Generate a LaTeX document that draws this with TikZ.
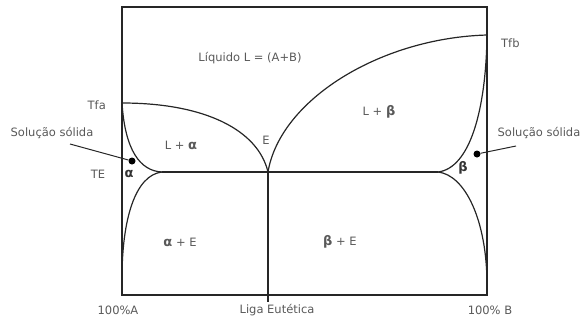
\documentclass[tikz,border=0pt]{standalone}
\usepackage{fontspec}
\setmainfont{DejaVu Sans}
\newcommand{\gal}{{\bfseries\fontsize{13}{14}\selectfont α}}
\newcommand{\gbe}{{\bfseries\fontsize{13}{14}\selectfont β}}
\begin{document}
\begin{tikzpicture}[x=1pt,y=-1pt,
  lbl/.style={text=black!65,font=\fontsize{11.5}{13}\selectfont,inner sep=0pt},
  glbl/.style={text=black!80,inner sep=0pt},
  curve/.style={draw=black!85,line width=1.2pt},
  frame/.style={draw=black!85,line width=1.6pt},
  ptr/.style={draw=black!85,line width=1pt}]
\useasboundingbox (0,0) rectangle (585,322);
% frame
\coordinate (BL) at (122,295);
\coordinate (TR) at (487,7);
\draw[frame] (BL) rectangle (TR);
% key points
\coordinate (Tfa) at (122,103);
\coordinate (Tfb) at (487,35);
\coordinate (E) at (268,172);
\coordinate (Ca) at (162,172);
\coordinate (Cb) at (438,172);
\coordinate (Eb) at (268,302);
% liquidus
\draw[curve] (Tfa) .. controls (205,103) and (258,130) .. (E);
\draw[curve] (E) .. controls (280,100) and (380,38) .. (Tfb);
% solidus
\draw[curve] (Tfa) .. controls (125,150) and (140,171) .. (Ca);
\draw[curve] (Tfb) .. controls (486,110) and (470,168) .. (Cb);
% solvus
\draw[curve] (Ca) .. controls (135,175) and (122,220) .. (122,278);
\draw[curve] (Cb) .. controls (465,175) and (487,220) .. (487,285);
% eutectic
\draw[curve] (Ca) -- (Cb);
\draw[curve] (E) -- (Eb);
% dots and pointers
\node[circle,fill=black,inner sep=0pt,minimum size=7pt] (da) at (132,161) {};
\node[circle,fill=black,inner sep=0pt,minimum size=7pt] (db) at (477,154) {};
\coordinate (pa) at (70,144);
\coordinate (pb) at (516,146);
\draw[ptr] (pa) -- (da);
\draw[ptr] (db) -- (pb);
% labels
\node[lbl] (liq) at (250,58) {Líquido L = (A+B)};
\node[lbl,anchor=east] (tfa) at (106,105) {Tfa};
\node[lbl,anchor=west] (tfb) at (501,43) {Tfb};
\node[lbl] (sa) at (52,133) {Solução sólida};
\node[lbl] (sb) at (539,133) {Solução sólida};
\node[lbl] (te) at (98,174) {TE};
\node[glbl] (al) at (129,174) {\gal};
\node[glbl] (be) at (463,168) {\gbe};
\node[lbl] (la) at (181,145) {L + \gal};
\node[lbl] (lb) at (379,112) {L + \gbe};
\node[lbl] (el) at (266,140) {E};
\node[lbl] (ae) at (180,242) {\gal{} + E};
\node[lbl] (bee) at (340,242) {\gbe{} + E};
\node[lbl] (a100) at (118,310) {100\%A};
\node[lbl] (liga) at (277,310) {Liga Eutética};
\node[lbl] (b100) at (490,310) {100\% B};
\end{tikzpicture}
\end{document}
